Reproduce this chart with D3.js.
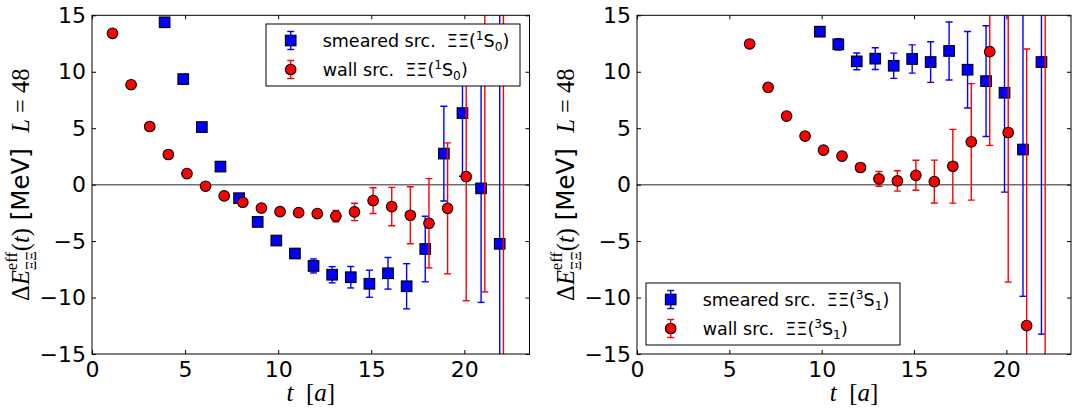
<!DOCTYPE html>
<html>
<head>
<meta charset="utf-8">
<script src="https://cdn.jsdelivr.net/npm/d3@7.9.0/dist/d3.min.js"></script>
<style>
  body { margin: 0; background: #fff; }
  svg { display: block; }
  text { white-space: pre; }
</style>
</head>
<body>
<svg id="chart" width="1072" height="412"></svg>
<script>
// ---- data ----
// left panel: 1S0 channel
const tS0Smeared = [4, 5, 6, 7, 8, 9, 10, 11, 12, 13, 14, 15, 16, 17, 18, 19, 20, 21, 22];
const eS0Smeared = [14.38, 9.35, 5.1, 1.6, -1.2, -3.3, -4.95, -6.1, -7.2, -7.98, -8.2, -8.78, -7.85, -9.0, -5.7, 2.75, 6.34, -0.33, -5.24];
const dS0Smeared = [0.1, 0.1, 0.15, 0.15, 0.2, 0.25, 0.3, 0.4, 0.62, 0.72, 0.95, 1.2, 1.4, 2.0, 2.9, 4.2, 5.6, 10.1, 25];

const tS0Wall = [1, 2, 3, 4, 5, 6, 7, 8, 9, 10, 11, 12, 13, 14, 15, 16, 17, 18, 19, 20, 21, 22];
const eS0Wall = [13.4, 8.85, 5.15, 2.67, 0.98, -0.14, -1.0, -1.56, -2.07, -2.39, -2.48, -2.56, -2.78, -2.42, -1.41, -1.94, -2.71, -3.42, -2.1, 0.72, 17, -20];
const dS0Wall = [0.05, 0.05, 0.05, 0.05, 0.05, 0.1, 0.1, 0.15, 0.2, 0.25, 0.3, 0.35, 0.5, 0.77, 1.14, 1.7, 2.53, 3.95, 5.8, 11.0, 26.5, 40];

// right panel: 3S1 channel
const tS1Smeared = [10, 11, 12, 13, 14, 15, 16, 17, 18, 19, 20, 21, 22];
const eS1Smeared = [13.55, 12.43, 10.92, 11.16, 10.53, 11.13, 10.86, 11.84, 10.18, 9.17, 8.14, 3.11, 10.86];
const dS1Smeared = [0.3, 0.5, 0.74, 0.96, 1.12, 1.25, 1.8, 2.57, 3.39, 4.9, 8.8, 13.0, 24.1];

const tS1Wall = [6, 7, 8, 9, 10, 11, 12, 13, 14, 15, 16, 17, 18, 19, 20, 21, 22];
const eS1Wall = [12.46, 8.62, 6.07, 4.3, 3.05, 2.52, 1.52, 0.51, 0.33, 0.83, 0.27, 1.63, 3.79, 11.78, 4.62, -12.48, -20];
const dS1Wall = [0.05, 0.05, 0.1, 0.1, 0.15, 0.2, 0.3, 0.65, 0.9, 1.33, 1.9, 3.27, 5.16, 8.3, 13.25, 24.5, 40];

const tDomain = [0, 23.5];
const eDomain = [-15, 15];
const tTicks = [0, 5, 10, 15, 20];
const eTicks = [-15, -10, -5, 0, 5, 10, 15];

const legendS0 = ["smeared src.  ", "wall src.  "];
const legendS1 = ["smeared src.  ", "wall src.  "];

// ---- drawing ----
const svg = d3.select("#chart");
const serif = "'Liberation Serif', 'DejaVu Serif', serif";
const sans = "'DejaVu Sans', sans-serif";
const BLUE = "#0000ff", RED = "#ff0000";
const TOP = 15.3, BOTTOM = 354;

// lay out a row of text runs (mathtext-ish), returns group + width
function mathText(parent, runs, size, family) {
  const g = parent.append("g");
  let xPos = 0, lastW = 0;
  runs.forEach(r => {
    const startX = r.stack ? xPos - lastW : xPos;
    const t = g.append("text")
      .attr("x", startX)
      .attr("y", -(r.up || 0) * size)
      .attr("font-family", r.f === "sans" ? sans : (r.f === "serif" ? serif : family))
      .attr("font-style", r.it ? "italic" : "normal")
      .attr("font-size", size * (r.sc || 1))
      .attr("fill", "#000")
      .text(r.s);
    const w = t.node().getComputedTextLength();
    xPos = r.stack ? startX + Math.max(w, lastW) : startX + w;
    lastW = w;
  });
  return { g, width: xPos };
}

function drawSeries(g, x, y, s) {
  const pts = s.t.map((t, i) => ({ t: t + s.shift, e: s.e[i], d: s.d[i] }));
  const bars = g.append("g").attr("stroke", s.color).attr("stroke-width", 1.4);
  bars.selectAll("line.v").data(pts).join("line")
    .attr("x1", d => x(d.t)).attr("x2", d => x(d.t))
    .attr("y1", d => y(d.e - d.d)).attr("y2", d => y(d.e + d.d));
  bars.selectAll("line.cap").data(pts.flatMap(d => [d.e - d.d, d.e + d.d].map(v => ({ t: d.t, v }))))
    .join("line")
    .attr("x1", d => x(d.t) - 3.5).attr("x2", d => x(d.t) + 3.5)
    .attr("y1", d => y(d.v)).attr("y2", d => y(d.v));
  const m = g.append("g").attr("fill", s.color).attr("stroke", "#000").attr("stroke-width", 1.1);
  if (s.marker === "square") {
    m.selectAll("rect").data(pts).join("rect")
      .attr("x", d => x(d.t) - 5.3).attr("y", d => y(d.e) - 5.3)
      .attr("width", 10.6).attr("height", 10.6);
  } else {
    m.selectAll("circle").data(pts).join("circle")
      .attr("cx", d => x(d.t)).attr("cy", d => y(d.e)).attr("r", 5.3);
  }
}

function legendMarker(g, cx, cy, color, marker) {
  g.append("line").attr("x1", cx).attr("x2", cx).attr("y1", cy - 9).attr("y2", cy + 9)
    .attr("stroke", color).attr("stroke-width", 1.4);
  [cy - 9, cy + 9].forEach(v => g.append("line").attr("x1", cx - 3.5).attr("x2", cx + 3.5)
    .attr("y1", v).attr("y2", v).attr("stroke", color).attr("stroke-width", 1.4));
  if (marker === "square") {
    g.append("rect").attr("x", cx - 5.3).attr("y", cy - 5.3).attr("width", 10.6).attr("height", 10.6)
      .attr("fill", color).attr("stroke", "#000").attr("stroke-width", 1.1);
  } else {
    g.append("circle").attr("cx", cx).attr("cy", cy).attr("r", 5.3)
      .attr("fill", color).attr("stroke", "#000").attr("stroke-width", 1.1);
  }
}

function drawPanel(p) {
  const x = d3.scaleLinear().domain(tDomain).range([p.left, p.right]);
  const y = d3.scaleLinear().domain(eDomain).range([BOTTOM, TOP]);
  const g = svg.append("g");

  g.append("clipPath").attr("id", "clip" + p.id).append("rect")
    .attr("x", p.left).attr("y", TOP).attr("width", p.right - p.left).attr("height", BOTTOM - TOP);

  const plot = g.append("g").attr("clip-path", `url(#clip${p.id})`);
  plot.append("line")
    .attr("x1", p.left).attr("x2", p.right).attr("y1", y(0)).attr("y2", y(0))
    .attr("stroke", "#707070").attr("stroke-width", 1.5);
  drawSeries(plot, x, y, { t: p.tA, e: p.eA, d: p.dA, shift: -0.1, color: BLUE, marker: "square" });
  drawSeries(plot, x, y, { t: p.tB, e: p.eB, d: p.dB, shift: 0.1, color: RED, marker: "circle" });

  // axes, ticks pointing inward on all sides
  const axStyle = a => a.call(s => s.select(".domain").remove())
    .call(s => s.selectAll("line").attr("stroke", "#000"))
    .call(s => s.selectAll("text").attr("font-family", sans).attr("font-size", 22).attr("fill", "#000"));
  g.append("g").attr("transform", `translate(0,${BOTTOM})`)
    .call(d3.axisBottom(x).tickValues(tTicks).tickSize(-4).tickPadding(7)).call(axStyle);
  g.append("g").attr("transform", `translate(0,${TOP})`)
    .call(d3.axisTop(x).tickValues(tTicks).tickSize(-4).tickFormat("")).call(axStyle);
  g.append("g").attr("transform", `translate(${p.left},0)`)
    .call(d3.axisLeft(y).tickValues(eTicks).tickSize(-4).tickPadding(6)).call(axStyle);
  g.append("g").attr("transform", `translate(${p.right},0)`)
    .call(d3.axisRight(y).tickValues(eTicks).tickSize(-4).tickFormat("")).call(axStyle);

  g.append("rect").attr("x", p.left).attr("y", TOP)
    .attr("width", p.right - p.left).attr("height", BOTTOM - TOP)
    .attr("fill", "none").attr("stroke", "#000").attr("stroke-width", 1);

  // legend
  const L = p.legend;
  const lg = g.append("g");
  lg.append("rect").attr("x", L.x).attr("y", L.y).attr("width", L.w).attr("height", L.h)
    .attr("fill", "#fff").attr("stroke", "#000").attr("stroke-width", 1);
  [[BLUE, "square"], [RED, "circle"]].forEach(([c, mk], i) => {
    const cy = L.y + 16.5 + i * 29;
    legendMarker(lg, L.x + 24.7, cy, c, mk);
    const row = lg.append("g").attr("transform", `translate(${L.x + 56.7},${cy + 6.5})`);
    mathText(row, [
      { s: p.legendText[i] }, { s: "ΞΞ(" }, { s: p.state[0], sc: 0.7, up: 0.4 },
      { s: "S" }, { s: p.state[1], sc: 0.7, up: -0.22 }, { s: ")" }
    ], 17.5, sans);
  });

  // x label
  const xl = g.append("g");
  const xm = mathText(xl, [{ s: "t", it: true }, { s: "  [" }, { s: "a", it: true }, { s: "]" }], 25, serif);
  xl.attr("transform", `translate(${(p.left + p.right) / 2 - xm.width / 2},401)`);

  // y label
  const yl = g.append("g");
  const ym = mathText(yl, [
    { s: "Δ" }, { s: "E", it: true }, { s: "eff", sc: 0.68, up: 0.48 },
    { s: "ΞΞ", sc: 0.6, up: -0.3, stack: true },
    { s: "(" }, { s: "t", it: true }, { s: ")" },
    { s: " [MeV]  ", f: "sans" },
    { s: "L", it: true }, { s: " = " }, { s: "48" }
  ], 24.5, serif);
  const cy = (TOP + BOTTOM) / 2;
  yl.attr("transform", `translate(${p.left - 63},${cy}) rotate(-90) translate(${-ym.width / 2},0)`);
}

drawPanel({
  id: "L", left: 92, right: 529.5,
  tA: tS0Smeared, eA: eS0Smeared, dA: dS0Smeared,
  tB: tS0Wall, eB: eS0Wall, dB: dS0Wall,
  legend: { x: 266, y: 24, w: 254, h: 62 },
  legendText: legendS0, state: ["1", "0"]
});
drawPanel({
  id: "R", left: 637, right: 1071,
  tA: tS1Smeared, eA: eS1Smeared, dA: dS1Smeared,
  tB: tS1Wall, eB: eS1Wall, dB: dS1Wall,
  legend: { x: 646, y: 283, w: 254, h: 62 },
  legendText: legendS1, state: ["3", "1"]
});
</script>
</body>
</html>
